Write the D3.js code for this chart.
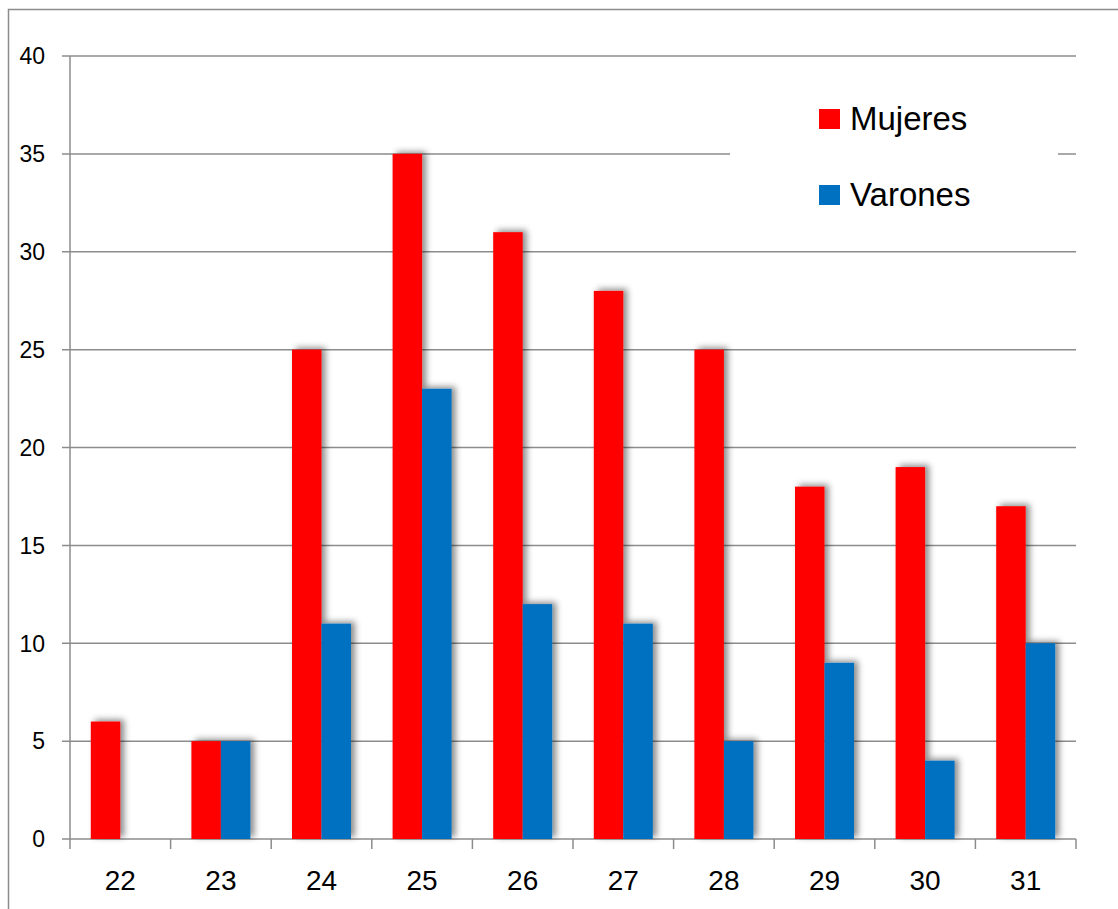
<!DOCTYPE html>
<html><head><meta charset="utf-8">
<script src="https://cdn.jsdelivr.net/npm/d3@7"></script>
<style>html,body{margin:0;padding:0;background:#fff;}svg{display:block;}</style>
</head><body>
<script>
const categories = ["22","23","24","25","26","27","28","29","30","31"];
const mujeres = [6,5,25,35,31,28,25,18,19,17];
const varones = [0,5,11,23,12,11,5,9,4,10];
const seriesNames = ["Mujeres","Varones"];
const seriesColors = ["#FF0000","#0070C0"];
const yTicks = [0,5,10,15,20,25,30,35,40];

const W = 1118, H = 909;
const pL = 70, pR = 1076, pT = 56, pB = 839;
const font = "'Liberation Sans', Arial, sans-serif";

const svg = d3.select("body").append("svg").attr("width", W).attr("height", H);
const defs = svg.append("defs");
const f = defs.append("filter").attr("id","sh").attr("x","-50%").attr("y","-20%").attr("width","200%").attr("height","140%");
f.append("feDropShadow").attr("dx",4).attr("dy",-2).attr("stdDeviation",3).attr("flood-color","#000").attr("flood-opacity",0.45);

// outer border
svg.append("rect").attr("x",8.5).attr("y",9.5).attr("width",1200).attr("height",1000)
  .attr("fill","none").attr("stroke","#8c8c8c").attr("stroke-width",1.5);

const y = d3.scaleLinear().domain([0,40]).range([pB, pT]);
const x0 = d3.scaleBand().domain(categories).range([pL, pR]).padding(0);
const x1 = d3.scaleBand().domain(seriesNames).range([0, x0.bandwidth()]).paddingInner(0).paddingOuter(0.705);

// gridlines
svg.append("g").selectAll("line").data(yTicks).join("line")
  .attr("x1", pL-8).attr("x2", pR).attr("y1", d=>y(d)).attr("y2", d=>y(d))
  .attr("stroke","#8c8c8c").attr("stroke-width",1.5);

// y axis line
svg.append("line").attr("x1",pL).attr("x2",pL).attr("y1",pT).attr("y2",pB)
  .attr("stroke","#8c8c8c").attr("stroke-width",1.5);

// x ticks
const xTickPos = categories.map(c=>x0(c)).concat([pR]);
svg.append("g").selectAll("line").data(xTickPos).join("line")
  .attr("x1", d=>d).attr("x2", d=>d).attr("y1", pB).attr("y2", pB+10)
  .attr("stroke","#8c8c8c").attr("stroke-width",1.5);

// y labels
svg.append("g").selectAll("text").data(yTicks).join("text")
  .attr("x", 45).attr("y", d=>y(d)).attr("dy","0.36em").attr("text-anchor","end")
  .attr("font-family", font).attr("font-size", 23).attr("fill","#000").text(d=>d);

// x labels
svg.append("g").selectAll("text").data(categories).join("text")
  .attr("x", d=>x0(d)+x0.bandwidth()/2).attr("y", 890).attr("text-anchor","middle")
  .attr("font-family", font).attr("font-size", 28).attr("fill","#000").text(d=>d);

// bars
const data = categories.map((c,i)=>({c, vals:[mujeres[i], varones[i]]}));
const g = svg.append("g").attr("filter","url(#sh)");
data.forEach(d=>{
  d.vals.forEach((v,j)=>{
    if (v<=0) return;
    g.append("rect")
      .attr("x", x0(d.c)+x1(seriesNames[j]))
      .attr("y", y(v))
      .attr("width", x1.bandwidth())
      .attr("height", y(0)-y(v))
      .attr("fill", seriesColors[j]);
  });
});

// legend
const lg = svg.append("g");
lg.append("rect").attr("x",730).attr("y",90).attr("width",328).attr("height",135).attr("fill","#fff");
seriesNames.forEach((s,i)=>{
  const cy = 119 + i*76;
  lg.append("rect").attr("x",819).attr("y",cy-10).attr("width",21).attr("height",20).attr("fill",seriesColors[i]);
  lg.append("text").attr("x",850).attr("y",cy+11).attr("font-family",font).attr("font-size",33)
    .attr("fill","#000").text(s);
});
</script>
</body></html>
